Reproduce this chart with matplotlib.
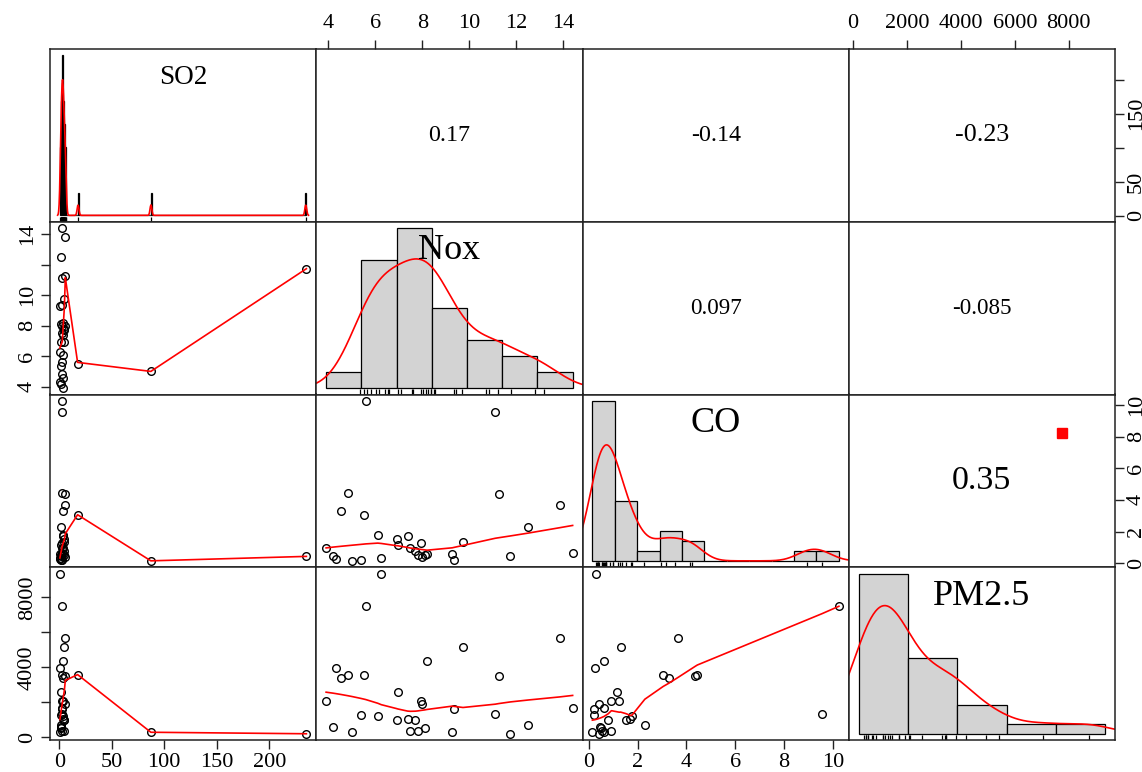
import numpy as np
import matplotlib
matplotlib.use("Agg")
import matplotlib.pyplot as plt
from matplotlib.transforms import blended_transform_factory

plt.rcParams['font.family'] = ['Liberation Serif', 'DejaVu Serif']

so2 = [3.3, 1.4, 0.7, 3.1, 2.6, 87.2, 1.6, 17.4, 2.5, 3.5,
       0.9, 4.1, 1.8, 3.7, 2.1, 4.6, 4.8, 2.3, 5.2, 1.2,
       3.9, 0.5, 2.9, 4.3, 2.4, 5.5, 235.4, 1.9, 5.7, 2.8]
nox = [3.9, 4.18, 4.3, 4.54, 4.84, 5.0, 5.37, 5.5, 5.59, 6.1,
       6.25, 6.9, 6.95, 7.37, 7.49, 7.7, 7.8, 7.95, 7.98, 8.1,
       8.2, 9.27, 9.35, 9.73, 11.1, 11.26, 11.75, 12.5, 13.85, 14.4]
co = [0.93, 0.46, 0.27, 3.29, 4.45, 0.15, 0.21, 3.05, 10.25, 1.78,
      0.3, 1.52, 1.15, 1.71, 0.93, 0.80, 0.55, 1.25, 0.42, 0.5,
      0.61, 0.61, 0.23, 1.31, 9.56, 4.37, 0.44, 2.3, 3.67, 0.63]
pm25 = [2076, 571, 3950, 3390, 3562, 286, 1276, 3550, 7486, 1200,
        9350, 990, 2590, 1067, 362, 990, 362, 2057, 1900, 552,
        4362, 286, 1619, 5162, 1352, 3486, 210, 686, 5695, 1650]

names = ["SO2", "Nox", "CO", "PM2.5"]
name_sizes = [19.5, 26, 26, 26]
hist_bin_width = [1, 2, 1, 2000]

# upper panels, order (1,2) (1,3) (1,4) (2,3) (2,4) (3,4)
cor_text = ["0.17", "-0.14", "-0.23", "0.097", "-0.085", "0.35"]
cor_px = [24, 24, 26, 23, 23, 34]
cor_marked = [False, False, False, False, False, True]

so2_ticks = [0, 50, 100, 150, 200]
nox_ticks = [4, 6, 8, 10, 12, 14]
co_ticks = [0, 2, 4, 6, 8, 10]
pm_ticks = [0, 2000, 4000, 6000, 8000]
so2_bottom_labels = ["0", "50", "100", "150", "200"]
so2_right_labels = ["0", "50", "", "150", ""]
nox_top_labels = ["4", "6", "8", "10", "12", "14"]
nox_left_labels = ["4", "6", "8", "10", "", "14"]
co_bottom_labels = ["0", "2", "4", "6", "8", "10"]
co_right_labels = ["0", "2", "4", "6", "8", "10"]
pm_top_labels = ["0", "2000", "4000", "6000", "8000"]
pm_left_labels = ["0", "", "4000", "", "8000"]


def lowest(x, y, xs, nleft, nright, rw, userw):
    n = len(x)
    rng = x[-1] - x[0]
    h = max(xs - x[nleft], x[nright] - xs)
    h9, h1 = .999 * h, .001 * h
    w = np.zeros(n)
    a = 0.0
    j = nleft
    while j < n:
        r = abs(x[j] - xs)
        if r <= h9:
            w[j] = 1.0 if r <= h1 else (1 - (r / h) ** 3) ** 3
            if userw:
                w[j] *= rw[j]
            a += w[j]
        elif x[j] > xs:
            break
        j += 1
    nrt = j - 1
    if a <= 0:
        return 0.0, False
    sl = slice(nleft, nrt + 1)
    w[sl] /= a
    if h > 0:
        a = np.sum(w[sl] * x[sl])
        b = xs - a
        c = np.sum(w[sl] * (x[sl] - a) ** 2)
        if np.sqrt(c) > .001 * rng:
            b /= c
            w[sl] *= (b * (x[sl] - a) + 1)
    return np.sum(w[sl] * y[sl]), True


def lowess(x, y, f=2 / 3, nsteps=3):
    """port of R's clowess"""
    order = np.argsort(x, kind='stable')
    x = np.asarray(x, float)[order]
    y = np.asarray(y, float)[order]
    n = len(x)
    delta = 0.01 * (x[-1] - x[0])
    ns = max(2, min(n, int(f * n + 1e-7)))
    ys = np.zeros(n)
    rw = np.ones(n)
    it = 1
    while it <= nsteps + 1:
        nleft, nright, last, i = 0, ns - 1, -1, 0
        while True:
            if nright < n - 1:
                d1 = x[i] - x[nleft]
                d2 = x[nright + 1] - x[i]
                if d1 > d2:
                    nleft += 1
                    nright += 1
                    continue
            val, ok = lowest(x, y, x[i], nleft, nright, rw, it > 1)
            ys[i] = val if ok else y[i]
            if last < i - 1:
                denom = x[i] - x[last]
                for j in range(last + 1, i):
                    alpha = (x[j] - x[last]) / denom
                    ys[j] = alpha * ys[i] + (1 - alpha) * ys[last]
            last = i
            cut = x[last] + delta
            i = last + 1
            while i < n:
                if x[i] > cut:
                    break
                if x[i] == x[last]:
                    ys[i] = ys[last]
                    last = i
                i += 1
            i = max(last + 1, i - 1)
            if last >= n - 1:
                break
        res = y - ys
        sc = np.mean(np.abs(res))
        if it > nsteps:
            break
        r = np.abs(res)
        cmad = 6 * np.median(r)
        if cmad < 1e-7 * sc:
            break
        rw = np.where(r <= .001 * cmad, 1.0,
                      np.where(r <= .999 * cmad, (1 - (r / cmad) ** 2) ** 2, 0.0))
        it += 1
    return x, ys


def density(v):
    v = np.asarray(v, float)
    iqr = np.subtract(*np.percentile(v, [75, 25]))
    bw = 0.9 * min(v.std(ddof=1), iqr / 1.34) * len(v) ** -0.2
    gx = np.linspace(v.min() - 3 * bw, v.max() + 3 * bw, 512)
    gy = np.exp(-0.5 * ((gx[:, None] - v[None, :]) / bw) ** 2).sum(1) / (len(v) * bw * np.sqrt(2 * np.pi))
    return gx, gy


def usr(v):
    lo, hi = min(v), max(v)
    pad = 0.04 * (hi - lo)
    return lo - pad, hi + pad


data = [so2, nox, co, pm25]
ticks = [so2_ticks, nox_ticks, co_ticks, pm_ticks]
top_axis = {1: nox_top_labels, 3: pm_top_labels}
bottom_axis = {0: so2_bottom_labels, 2: co_bottom_labels}
left_axis = {1: nox_left_labels, 3: pm_left_labels}
right_axis = {0: so2_right_labels, 2: co_right_labels}

W, H = 1142, 772
left, right, top, bottom = 50, 1115, 49, 740
pw = (right - left) / 4
ph = (bottom - top) / 4

fig = plt.figure(figsize=(W / 100, H / 100), dpi=100)
fig.patch.set_facecolor('white')

k = 0
for i in range(4):
    for j in range(4):
        ax = fig.add_axes([(left + j * pw) / W, 1 - (top + (i + 1) * ph) / H, pw / W, ph / H])
        for s in ax.spines.values():
            s.set_linewidth(1.1)
            s.set_color('#222222')
        ax.tick_params(top=False, bottom=False, left=False, right=False,
                       labeltop=False, labelbottom=False, labelleft=False, labelright=False,
                       length=6.5, width=1.0, color='#222222', labelsize=16, pad=3)

        if i == j:
            # histogram panel with its own coordinates
            v = np.asarray(data[i], float)
            w = hist_bin_width[i]
            edges = np.arange(np.floor(v.min() / w) * w, np.ceil(v.max() / w) * w + w / 2, w)
            counts, _ = np.histogram(v, bins=edges)
            dens = counts / (len(v) * w)
            m = dens.max()
            span = edges[-1] - edges[0]
            ax.bar(edges[:-1], dens, width=w, align='edge', color='#d3d3d3',
                   edgecolor='black', linewidth=0.9)
            gx, gy = density(v)
            ax.plot(gx, gy, color='red', lw=1.2)
            tr = blended_transform_factory(ax.transData, ax.transAxes)
            ax.vlines(v, 0, 0.03, transform=tr, color='black', lw=0.9)
            ax.text(0.5, 0.833, names[i], transform=ax.transAxes, ha='center', va='center',
                    fontsize=name_sizes[i])
            ax.set_xticks([])
            ax.set_yticks([])
            ax.set_xlim(edges[0] - 0.04 * span, edges[-1] + 0.04 * span)
            ax.set_ylim(-0.04 * m, 1.04 * m)
            continue

        if i > j:
            ax.plot(data[j], data[i], 'o', ms=5.5, mfc='none', mec='black', mew=1.0)
            lx, ly = lowess(data[j], data[i])
            ax.plot(lx, ly, color='red', lw=1.2)
        else:
            ax.text(0.5, 0.5, cor_text[k], transform=ax.transAxes, ha='center', va='center',
                    fontsize=cor_px[k] * 0.72)
            if cor_marked[k]:
                ax.plot([0.8], [0.78], 's', color='red', ms=7, transform=ax.transAxes)
            k += 1

        ax.set_xticks(ticks[j])
        ax.set_yticks(ticks[i])
        ax.set_xlim(*usr(data[j]))
        ax.set_ylim(*usr(data[i]))
        if i == 0 and j in top_axis:
            ax.set_xticklabels(top_axis[j])
            ax.tick_params(axis='x', top=True, labeltop=True, pad=5)
        if i == 3 and j in bottom_axis:
            ax.set_xticklabels(bottom_axis[j])
            ax.tick_params(axis='x', bottom=True, labelbottom=True)
        if j == 0 and i in left_axis:
            ax.set_yticklabels(left_axis[i])
            ax.tick_params(axis='y', left=True, labelleft=True, labelrotation=90)
        if j == 3 and i in right_axis:
            ax.set_yticklabels(right_axis[i])
            ax.tick_params(axis='y', right=True, labelright=True, labelrotation=90, pad=2)
        for lbl in ax.get_yticklabels():
            lbl.set_va('center')

fig.savefig("out.png", dpi=100)
